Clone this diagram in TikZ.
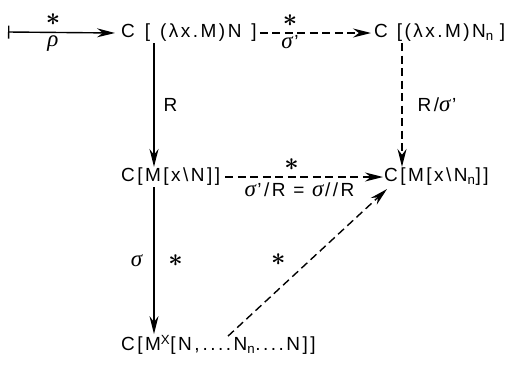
\documentclass[tikz,border=0pt]{standalone}
\usepackage{fontspec}
\setmainfont{Liberation Sans}[LetterSpace=13]
\newfontfamily\grk{Liberation Serif}
\newcommand{\sig}{{\grk\itshape\fontsize{23}{25}\selectfont σ\hspace{1.5pt}}}
\usetikzlibrary{arrows.meta,calc}
\tikzset{
  term/.style = {inner sep=1pt, anchor=west, font=\fontsize{19}{23}\selectfont},
  lbl/.style  = {inner sep=2pt, font=\fontsize{19}{23}\selectfont},
  star/.style = {inner sep=1pt, scale=2.5, font=\normalsize\boldmath},
  fl/.style   = {-{Stealth[length=18pt,width=9pt]}, line width=1.4pt},
  fld/.style  = {-{Stealth[length=18pt,width=9pt]}, line width=1.4pt, dash pattern=on 8pt off 4.5pt},
}

\begin{document}
\begin{tikzpicture}[x=1pt,y=-1pt]
  \useasboundingbox (0,0) rectangle (511,367);

  \coordinate (src) at (8,32);
  \node[term] (tl) at (120,33)  {C\hspace{10pt}[\hspace{10pt}(λx.M)N\hspace{10pt}]};
  \node[term] (tr) at (373,33)  {C\hspace{9pt}[(λx.M)N\textsubscript{n}\hspace{6pt}]};
  \node[term] (ml) at (120,177) {C[M[x\textbackslash N]]};
  \node[term] (mr) at (383,177) {C[M[x\textbackslash N\textsubscript{n}]]};
  \node[term] (bl) at (120,345) {C[M\textsuperscript{X}[N,\,....N\textsubscript{n}....N]]};

  \draw[{Bar[width=13pt]}-{Stealth[length=18pt,width=9pt]}, line width=1.4pt] (src) -- ([xshift=-5pt]tl.west)
    node[star, pos=0.42, above=1pt] {$\ast$} node[lbl, pos=0.42, below=1pt] {{\grk\itshape\fontsize{23}{25}\selectfont ρ}};
  \draw[fld] ([xshift=2pt]tl.east) -- ([xshift=-2pt]tr.west)
    node[star, pos=0.27, above=1pt] {$\ast$} node[lbl, pos=0.27, below=0pt] {\sig'};
  \draw[fl] ([xshift=34pt]tl.south west) -- ([xshift=34pt]ml.north west)
    node[lbl, midway, right=7pt] {R};
  \draw[fld] ([xshift=29pt]tr.south west) -- ([xshift=19pt]mr.north west)
    node[lbl, midway, right=13pt] {R/\sig'};
  \draw[fld] ([xshift=4pt]ml.east) -- (mr.west)
    node[star, pos=0.42, above=1pt] {$\ast$} node[lbl, pos=0.47, below=3pt] {\sig'/R = \sig//R};
  \draw[fl] ([xshift=34pt]ml.south west) -- ([xshift=34pt]bl.north west)
    node[lbl, midway, left=9pt] {\sig} node[star, midway, right=4pt] {$\ast$};
  \draw[fld] ([xshift=108pt,yshift=-2pt]bl.north west) -- ([xshift=4pt,yshift=-2pt]mr.south west)
    node[star, pos=0.42, above left=2pt] {$\ast$};
\end{tikzpicture}
\end{document}
